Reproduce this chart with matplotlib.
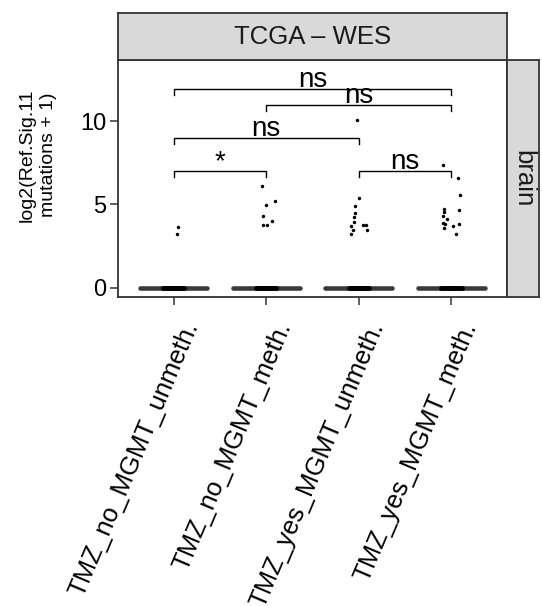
import matplotlib
matplotlib.use("Agg")
import matplotlib.pyplot as plt
import matplotlib.transforms as mtransforms
import numpy as np

plt.rcParams['font.family'] = ['Liberation Sans', 'DejaVu Sans']

# ---------------- data ----------------
categories = ["TMZ_no_MGMT_unmeth.", "TMZ_no_MGMT_meth.",
              "TMZ_yes_MGMT_unmeth.", "TMZ_yes_MGMT_meth."]

# non-zero observations per group (log2 scale) and their jitter offsets
g1_vals = [3.62, 3.22]
g1_jit = [0.047, 0.036]
g2_vals = [6.10, 4.96, 5.18, 4.30, 4.02, 3.76, 3.76]
g2_jit = [-0.043, -0.007, 0.094, -0.036, 0.065, -0.036, 0.004]
g3_vals = [10.04, 5.36, 4.92, 4.50, 4.22, 3.94, 3.70, 3.46, 3.20, 3.78, 3.78, 3.46]
g3_jit = [-0.018, 0.007, -0.036, -0.043, -0.047, -0.054, -0.083, -0.065, -0.083,
          0.043, 0.079, 0.090]
g4_vals = [7.34, 6.56, 5.56, 4.70, 4.56, 4.66, 4.30, 4.14, 3.90, 3.82, 3.58, 3.72,
           3.82, 3.24]
g4_jit = [-0.094, 0.076, 0.094, -0.079, -0.079, 0.079, -0.087, -0.050, -0.090,
          -0.072, -0.076, 0.014, 0.079, 0.047]
group_vals = [g1_vals, g2_vals, g3_vals, g4_vals]
group_jit = [g1_jit, g2_jit, g3_jit, g4_jit]

# medians (all groups are dominated by zeros)
medians = [0, 0, 0, 0]

# pairwise comparisons: (group a, group b, bracket height, label)
comp_a = [1, 2, 1, 1, 3]
comp_b = [4, 4, 3, 2, 4]
comp_y = [11.92, 10.98, 8.98, 7.0, 7.0]
comp_lab = ["ns", "ns", "ns", "*", "ns"]

yticks = [0, 5, 10]
strip_top = "TCGA – WES"
strip_right = "brain"
ylabel = "log2(Ref.Sig.11\nmutations + 1)"

# ---------------- figure ----------------
W, H = 542, 606
fig = plt.figure(figsize=(W / 100, H / 100), dpi=100)

def rect(x0, y0, x1, y1):
    return [x0 / W, 1 - y1 / H, (x1 - x0) / W, (y1 - y0) / H]

dark = '#333333'
ax = fig.add_axes(rect(118, 60, 507, 297))
ax.set_xlim(0.4, 4.6)
ax.set_ylim(-0.56, 13.66)

xs = np.arange(1, len(categories) + 1)
# zero band (dense zeros) + median
for x, m in zip(xs, medians):
    ax.plot([x - 0.36, x + 0.36], [m, m], color='#3a3a3a', lw=3.3,
            solid_capstyle='round', zorder=2)
    ax.plot([x - 0.11, x + 0.11], [m, m], color='black', lw=3.5,
            solid_capstyle='round', zorder=3)

for x, vals, jit in zip(xs, group_vals, group_jit):
    ax.plot(x + np.array(jit), vals, 'o', color='black', ms=2.5, mew=0,
            zorder=4)

tick_drop = 0.38
for a, b, y, lab in zip(comp_a, comp_b, comp_y, comp_lab):
    ax.plot([a, a, b, b], [y - tick_drop, y, y, y - tick_drop], color='black',
            lw=1.0, solid_joinstyle='miter', zorder=5)
    ax.text((a + b) / 2, y + 0.1, lab, ha='center', va='baseline',
            fontsize=20, color='black', zorder=6)

for s in ax.spines.values():
    s.set_color(dark)
    s.set_linewidth(1.3)

ax.set_yticks(yticks)
ax.set_yticklabels([str(t) for t in yticks], fontsize=17, color='black')
ax.set_xticks(xs)
ax.set_xticklabels(categories, fontsize=18.5, color='black', rotation=67,
                   ha='right', va='top', rotation_mode='anchor')
ax.tick_params(axis='both', length=5.5, width=1.1, color=dark, pad=3)
ax.tick_params(axis='x', pad=4)
shift = mtransforms.ScaledTranslation(8 / 100, -8 / 100, fig.dpi_scale_trans)
for lbl in ax.get_xticklabels():
    lbl.set_transform(lbl.get_transform() + shift)

# strips
sx = fig.add_axes(rect(118, 13, 507, 60))
sx.set_facecolor('#D9D9D9')
sx.set_xticks([]); sx.set_yticks([])
for s in sx.spines.values():
    s.set_color(dark); s.set_linewidth(1.3)
sx.text(0.5, 0.5, strip_top, ha='center', va='center', fontsize=18.5,
        transform=sx.transAxes, color='#1a1a1a')

sy = fig.add_axes(rect(507, 60, 539, 297))
sy.set_facecolor('#D9D9D9')
sy.set_xticks([]); sy.set_yticks([])
for s in sy.spines.values():
    s.set_color(dark); s.set_linewidth(1.3)
sy.text(0.5, 0.5, strip_right, ha='center', va='center', fontsize=18.5,
        rotation=-90, transform=sy.transAxes, color='#1a1a1a')

fig.text(38 / W, 1 - 155 / H, ylabel, rotation=90, ha='center', va='center',
         fontsize=14, linespacing=1.3, multialignment='center')

fig.savefig('out.png', dpi=100)
